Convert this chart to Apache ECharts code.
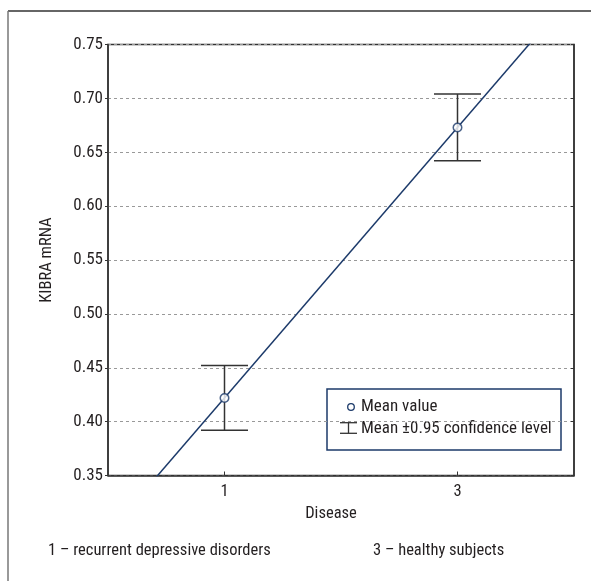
<!DOCTYPE html>
<html>
<head>
<meta charset="utf-8">
<script src="https://cdn.jsdelivr.net/npm/echarts@6/dist/echarts.min.js"></script>
<style>
html,body{margin:0;padding:0;background:#fff;}
#chart{width:591px;height:581px;}
</style>
</head>
<body>
<div id="chart"></div>
<script>
// Data
const diseaseCodes = [1, 3];
const xTickLabels = ['1', '3'];
const meanValues = [0.422, 0.673];
const ciLower = [0.392, 0.642];
const ciUpper = [0.452, 0.704];
const footnotes = ['1 \u2013 recurrent depressive disorders', '3 \u2013 healthy subjects'];
const yMin = 0.35, yMax = 0.75, yStep = 0.05;
const xMin = 0, xMax = 4;

const FONT = '"Roboto Condensed", "DejaVu Sans Condensed", sans-serif';
const FS = 16.5;
const TXT = '#231f20';
const NAVY = '#1c3a6a';

// regression line through the two means, extended across axis range (clipped)
const slope = (meanValues[1] - meanValues[0]) / (diseaseCodes[1] - diseaseCodes[0]);
const lineData = [xMin, xMax].map(x => [x, meanValues[0] + slope * (x - diseaseCodes[0])]);

const errData = diseaseCodes.map((c, i) => [c, ciLower[i], ciUpper[i]]);
const meanData = diseaseCodes.map((c, i) => [c, meanValues[i]]);

const chart = echarts.init(document.getElementById('chart'), null, {renderer: 'canvas'});
chart.setOption({
  animation: false,
  backgroundColor: '#fff',
  grid: {left: 108, right: 17, top: 44.5, bottom: 105.5, show: true, borderColor: '#333', borderWidth: 1.5, backgroundColor: 'transparent'},
  xAxis: {
    type: 'value', min: xMin, max: xMax, interval: 1,
    name: 'Disease', nameLocation: 'middle', nameGap: 26,
    nameTextStyle: {fontFamily: FONT, fontSize: FS, color: TXT, padding: [0, 20, 0, 0]},
    axisLine: {show: true, onZero: false, lineStyle: {color: '#333', width: 1.5}},
    axisTick: {show: true, inside: true, length: 4, customValues: diseaseCodes, lineStyle: {color: '#333'}},
    axisLabel: {show: true, customValues: diseaseCodes, margin: 8, fontFamily: FONT, fontSize: FS, color: TXT,
      formatter: v => xTickLabels[diseaseCodes.indexOf(v)] || ''},
    splitLine: {show: false}
  },
  yAxis: [{
    type: 'value', min: yMin, max: yMax, interval: yStep,
    name: 'KIBRA mRNA', nameLocation: 'middle', nameGap: 53, nameRotate: 90,
    nameTextStyle: {fontFamily: FONT, fontSize: FS, color: TXT},
    axisLine: {show: true, lineStyle: {color: '#333', width: 1.5}},
    axisTick: {show: true, length: 3, lineStyle: {color: '#333'}},
    axisLabel: {margin: 5, fontFamily: FONT, fontSize: 17, color: TXT, formatter: v => v.toFixed(2)},
    splitLine: {show: true, lineStyle: {color: '#999', type: [3, 3], width: 1}}
  }, {
    type: 'value', min: yMin, max: yMax, interval: yStep, position: 'right',
    axisLine: {show: true, lineStyle: {color: '#333', width: 1.5}},
    axisTick: {show: true, inside: true, length: 3, lineStyle: {color: '#333'}},
    axisLabel: {show: false}, splitLine: {show: false}
  }],
  series: [
    {
      type: 'line', data: lineData, showSymbol: false, clip: true,
      lineStyle: {color: NAVY, width: 1.5}, z: 3
    },
    {
      type: 'custom', data: errData, z: 2,
      renderItem: function (params, api) {
        const x = api.value(0);
        const lo = api.coord([x, api.value(1)]);
        const hi = api.coord([x, api.value(2)]);
        const hw = 23.5;
        const style = {stroke: '#333', lineWidth: 1.5};
        return {type: 'group', children: [
          {type: 'line', shape: {x1: lo[0], y1: lo[1], x2: hi[0], y2: hi[1]}, style},
          {type: 'line', shape: {x1: lo[0] - hw, y1: lo[1], x2: lo[0] + hw, y2: lo[1]}, style},
          {type: 'line', shape: {x1: hi[0] - hw, y1: hi[1], x2: hi[0] + hw, y2: hi[1]}, style}
        ]};
      }
    },
    {
      type: 'scatter', data: meanData, symbol: 'circle', symbolSize: 8.5, z: 4,
      itemStyle: {color: '#fff', borderColor: NAVY, borderWidth: 1.5}
    }
  ],
  graphic: [
    {type: 'line', shape: {x1: 8, y1: 11, x2: 591, y2: 11}, style: {stroke: '#333', lineWidth: 1.5}, z: 10},
    {type: 'line', shape: {x1: 8, y1: 11, x2: 8, y2: 581}, style: {stroke: '#777', lineWidth: 1.5}, z: 10},
    {type: 'group', z: 20, children: [
      {type: 'rect', shape: {x: 327, y: 389, width: 234, height: 61}, style: {fill: '#fff', stroke: NAVY, lineWidth: 1.5}},
      {type: 'circle', shape: {cx: 351, cy: 407, r: 3.3}, style: {fill: '#fff', stroke: NAVY, lineWidth: 1.3}},
      {type: 'line', shape: {x1: 348.5, y1: 422.7, x2: 348.5, y2: 433.3}, style: {stroke: '#333', lineWidth: 1.3}},
      {type: 'line', shape: {x1: 340, y1: 422.7, x2: 357, y2: 422.7}, style: {stroke: '#333', lineWidth: 1.3}},
      {type: 'line', shape: {x1: 340, y1: 433.3, x2: 357, y2: 433.3}, style: {stroke: '#333', lineWidth: 1.3}},
      {type: 'text', x: 361, y: 407, style: {text: 'Mean value', font: '17px ' + FONT, fill: TXT, verticalAlign: 'middle'}},
      {type: 'text', x: 361, y: 429, style: {text: 'Mean \u00b10.95 confidence level', font: '17px ' + FONT, fill: TXT, verticalAlign: 'middle'}}
    ]},
    {type: 'text', x: 48, y: 551, style: {text: footnotes[0], font: FS + 'px ' + FONT, fill: TXT, verticalAlign: 'middle'}},
    {type: 'text', x: 373, y: 551, style: {text: footnotes[1], font: FS + 'px ' + FONT, fill: TXT, verticalAlign: 'middle'}}
  ]
});
</script>
</body>
</html>
